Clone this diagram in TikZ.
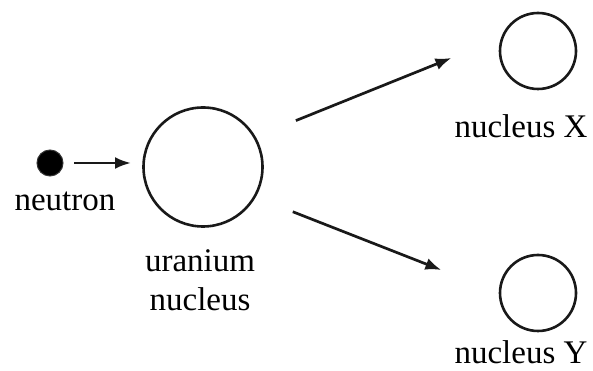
\documentclass[tikz,border=0pt]{standalone}
\usepackage{fontspec}
\setmainfont{Liberation Serif}
\usetikzlibrary{arrows.meta}

\begin{document}
\begin{tikzpicture}[
    x=1pt,
    y=1pt,
    every node/.style={font=\fontsize{33}{39}\selectfont},
    nucleus/.style={circle, draw=black!90, line width=2.6pt, inner sep=0pt, outer sep=0pt},
    particle/.style={circle, fill=black, draw=black!80, line width=1pt, inner sep=0pt,
      outer sep=0pt, minimum size=26pt},
    flow/.style={-{Latex[length=16pt,width=12pt]}, draw=black!90, line width=2.7pt},
    label/.style={anchor=base, align=center, inner sep=0pt}
  ]
    \useasboundingbox (0,0) rectangle (593,371);

    % Particles and nuclei.
    \node[particle] (neutron) at (50,208) {};
    \node[nucleus, minimum size=119pt] (uranium) at (203,204) {};
    \node[nucleus, minimum size=76pt] (nucX) at (538,320) {};
    \node[nucleus, minimum size=76pt] (nucY) at (538,78) {};

    % Labels (base of a two-line label is its last line).
    \node[label] (neutronlbl) at (65,160.3) {neutron};
    \node[label] (uraniumlbl) at (200,60.3) {uranium\\nucleus};
    \node[label] (nucXlbl) at (521,233) {nucleus X};
    \node[label] (nucYlbl) at (521,7) {nucleus Y};

    % Incoming neutron and fission products.
    \draw[flow, shorten <=11pt, shorten >=12.5pt]
      (neutron.east) -- (uranium.west |- neutron.east);
    \draw[flow, shorten <=44.6pt, shorten >=55.1pt] (uranium.30) -- (nucX.159);
    \draw[flow, shorten <=41.1pt, shorten >=63pt] (uranium.-30) -- (nucY.west);
  \end{tikzpicture}
\end{document}
